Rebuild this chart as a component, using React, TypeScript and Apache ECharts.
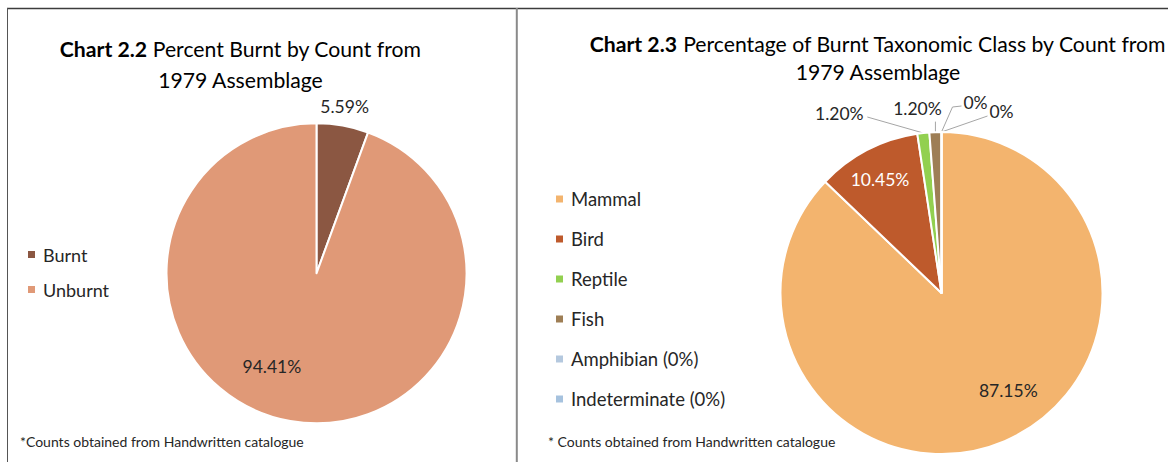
import React, { useEffect, useRef } from 'react';
import * as echarts from 'echarts';

// ---- data ----
const burntCategories = ['Burnt', 'Unburnt'];
const burntValues = [5.59, 94.41];
const burntColors = ['#8B5742', '#E09977'];

const taxonCategories = ['Mammal', 'Bird', 'Reptile', 'Fish', 'Amphibian (0%)', 'Indeterminate (0%)'];
const taxonValues = [87.15, 10.45, 1.2, 1.2, 0, 0];
const taxonColors = ['#F3B46E', '#BE5A2C', '#92D050', '#9E7E55', '#B4C8DE', '#A6C2DE'];

const titleLeftBold = 'Chart 2.2';
const titleLeftRest = ' Percent Burnt by Count from';
const titleLeftLine2 = '1979 Assemblage';
const titleRightBold = 'Chart 2.3';
const titleRightRest = ' Percentage of Burnt Taxonomic Class by Count from';
const titleRightLine2 = '1979 Assemblage';
const footnoteLeft = '*Counts obtained from Handwritten catalogue';
const footnoteRight = '* Counts obtained from Handwritten catalogue';

const FONT = 'Lato, "Open Sans", sans-serif';
const TEXT = '#262626';

function fmt(v: number): string {
  return v === 0 ? '0%' : v.toFixed(2) + '%';
}

// label offsets (styling) relative to the library's default label positions
const leftLabelOffset: Record<number, [number, number]> = { 0: [-30, -4], 1: [-31, 16] };
const rightInsideOffset: Record<number, [number, number]> = { 0: [34, 21], 1: [-23, -39] };
const rightOutside: Record<number, { label: [number, number]; line: [number, number][] }> = {
  2: { label: [-84, -20], line: [[-56, -16]] },
  3: { label: [-18, -24], line: [[0, -10.5]] },
  4: { label: [34, -30], line: [[11, -25], [20, -26]] },
  5: { label: [60, -21], line: [[46, -16]] },
};

export default function App() {
  const ref = useRef<HTMLDivElement>(null);
  useEffect(() => {
    if (!ref.current) return;
    const chart = echarts.init(ref.current, undefined, { renderer: 'svg' });
    const titleStyle = (lh: number) => ({
      fontFamily: FONT,
      fontSize: 21.2,
      fontWeight: 'normal' as const,
      color: '#000',
      lineHeight: lh,
      rich: { b: { fontFamily: FONT, fontSize: 21.2, fontWeight: 'bold' as const, color: '#000', lineHeight: lh } },
    });
    const option: any = {
      animation: false,
      backgroundColor: '#ffffff',
      title: [
        {
          text: `{b|${titleLeftBold}}${titleLeftRest}\n${titleLeftLine2}`,
          left: 240.5,
          top: 34,
          padding: 0,
          textAlign: 'center',
          textStyle: titleStyle(30.5),
        },
        {
          text: `{b|${titleRightBold}}${titleRightRest}\n${titleRightLine2}`,
          left: 878,
          top: 29.5,
          padding: 0,
          textAlign: 'center',
          textStyle: titleStyle(28),
        },
      ],
      legend: [
        {
          data: burntCategories,
          orient: 'vertical',
          left: 26,
          top: 245.5,
          padding: 0,
          itemWidth: 9,
          itemHeight: 9,
          itemGap: 17,
          icon: 'rect',
          selectedMode: false,
          textStyle: { fontFamily: FONT, fontSize: 18, color: TEXT, padding: [0, 0, 0, 2] },
        },
        {
          data: taxonCategories,
          orient: 'vertical',
          left: 554,
          top: 189.5,
          padding: 0,
          itemWidth: 9,
          itemHeight: 9,
          itemGap: 21,
          icon: 'rect',
          selectedMode: false,
          textStyle: { fontFamily: FONT, fontSize: 18.5, color: TEXT, padding: [0, 0, 0, 2] },
        },
      ],
      graphic: [
        { type: 'line', shape: { x1: 7, y1: 8.5, x2: 1168, y2: 8.5 }, style: { stroke: '#3c3c3c', lineWidth: 1.5 }, silent: true },
        { type: 'line', shape: { x1: 7.5, y1: 8, x2: 7.5, y2: 462 }, style: { stroke: '#555555', lineWidth: 1 }, silent: true },
        { type: 'line', shape: { x1: 516.8, y1: 8, x2: 516.8, y2: 462 }, style: { stroke: '#8a8a8a', lineWidth: 2 }, silent: true },
        {
          type: 'text', x: 20, y: 441,
          style: { text: footnoteLeft, fontFamily: FONT, fontSize: 14, fill: TEXT, verticalAlign: 'middle', align: 'left' },
          silent: true,
        },
        {
          type: 'text', x: 548, y: 441,
          style: { text: footnoteRight, fontFamily: FONT, fontSize: 14, fill: TEXT, verticalAlign: 'middle', align: 'left' },
          silent: true,
        },
      ],
      series: [
        {
          type: 'pie',
          center: [316.5, 273.3],
          radius: 150,
          startAngle: 90,
          clockwise: true,
          avoidLabelOverlap: false,
          emphasis: { disabled: true },
          itemStyle: { borderColor: '#ffffff', borderWidth: 2 },
          label: {
            show: true,
            fontFamily: FONT,
            fontSize: 17.5,
            color: TEXT,
            formatter: (p: any) => fmt(p.value),
          },
          labelLine: { show: false, length: 15, length2: 0 },
          labelLayout: (p: any) => {
            const off = leftLabelOffset[p.dataIndex] || [0, 0];
            const r = p.labelRect;
            return {
              x: r.x + r.width / 2 + off[0],
              y: r.y + r.height / 2 + off[1],
              align: 'center',
              verticalAlign: 'middle',
            };
          },
          data: burntCategories.map((name, i) => ({
            name,
            value: burntValues[i],
            itemStyle: { color: burntColors[i] },
            label: { position: i === 0 ? 'outside' : 'inside' },
          })),
        },
        {
          type: 'pie',
          center: [941.5, 293],
          radius: 161,
          startAngle: 90,
          clockwise: true,
          avoidLabelOverlap: false,
          emphasis: { disabled: true },
          itemStyle: { borderColor: '#ffffff', borderWidth: 2 },
          label: {
            show: true,
            fontFamily: FONT,
            fontSize: 17.5,
            color: TEXT,
            formatter: (p: any) => fmt(p.value),
          },
          labelLine: { show: true, length: 12, length2: 10, smooth: false, lineStyle: { color: '#a6a6a6', width: 1 } },
          labelLayout: (p: any) => {
            const r = p.labelRect;
            const inside = rightInsideOffset[p.dataIndex];
            if (inside) {
              return {
                x: r.x + r.width / 2 + inside[0],
                y: r.y + r.height / 2 + inside[1],
                align: 'center',
                verticalAlign: 'middle',
              };
            }
            const o = rightOutside[p.dataIndex];
            const pts = p.labelLinePoints;
            const a: number[] = pts && pts.length ? pts[0] : [p.rect.x + p.rect.width / 2, p.rect.y];
            return {
              x: a[0] + o.label[0],
              y: a[1] + o.label[1],
              align: 'center',
              verticalAlign: 'middle',
              labelLinePoints: [[a[0], a[1]], ...o.line.map((d) => [a[0] + d[0], a[1] + d[1]])],
            };
          },
          data: taxonCategories.map((name, i) => ({
            name,
            value: taxonValues[i],
            itemStyle: { color: taxonColors[i] },
            label: i < 2
              ? { position: 'inside', color: i === 1 ? '#ffffff' : TEXT }
              : { position: 'outside' },
          })),
        },
      ],
    };
    chart.setOption(option);
    return () => chart.dispose();
  }, []);
  return (
    <div
      ref={ref}
      style={{ position: 'absolute', left: 0, top: 0, width: 1168, height: 462, background: '#fff' }}
    />
  );
}
